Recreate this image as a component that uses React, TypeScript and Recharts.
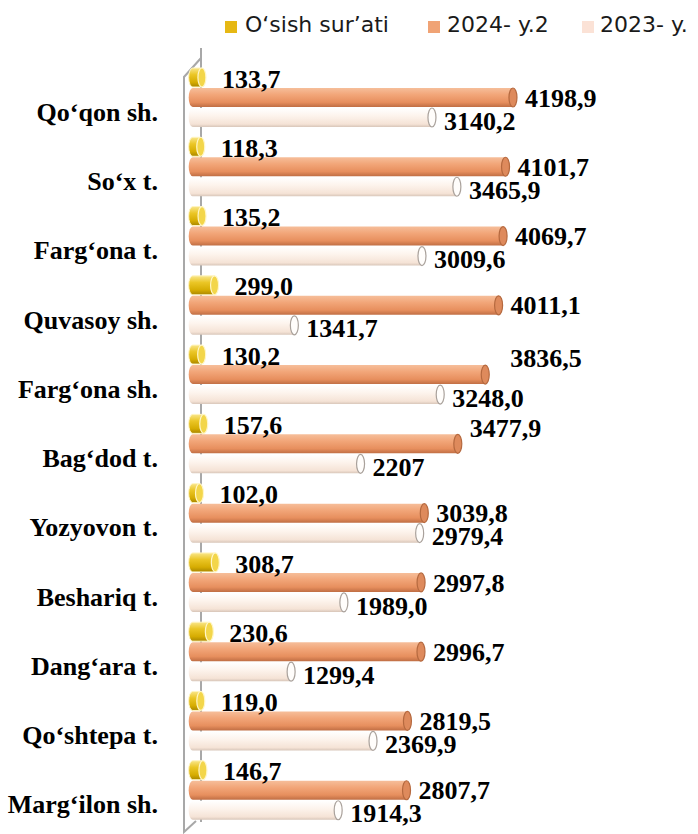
import React from 'react';
import { BarChart, Bar, XAxis, YAxis, LabelList } from 'recharts';

const categories = [
  'Qo‘qon sh.', 'So‘x t.', 'Farg‘ona t.', 'Quvasoy sh.', 'Farg‘ona sh.', 'Bag‘dod t.',
  'Yozyovon t.', 'Beshariq t.', 'Dang‘ara t.', 'Qo‘shtepa t.', 'Marg‘ilon sh.',
];
// values as printed on the chart (comma decimals)
const growth = ['133,7', '118,3', '135,2', '299,0', '130,2', '157,6', '102,0', '308,7', '230,6', '119,0', '146,7'];
const year2024 = ['4198,9', '4101,7', '4069,7', '4011,1', '3836,5', '3477,9', '3039,8', '2997,8', '2996,7', '2819,5', '2807,7'];
const year2023 = ['3140,2', '3465,9', '3009,6', '1341,7', '3248,0', '2207', '2979,4', '1989,0', '1299,4', '2369,9', '1914,3'];

const num = (s: string) => parseFloat(s.replace(',', '.'));

const data = categories.map((name, i) => ({
  name,
  g: num(growth[i]), gLabel: growth[i],
  y24: num(year2024[i]), y24Label: year2024[i],
  y23: num(year2023[i]), y23Label: year2023[i],
}));

const SERIES = {
  g: { grad: 'gradYellow', cap: '#F3D64A', capStroke: '#FFF6C8', dx: 16, dy: 1 },
  y24: { grad: 'gradOrange', cap: '#DE8A5C', capStroke: '#B5693F', dx: 8, dy: 0 },
  y23: { grad: 'gradCream', cap: '#FFFDFB', capStroke: '#A9A19B', dx: 8, dy: 3 },
};

// a couple of labels were moved by hand in the original
const labelNudge: Record<string, { dx: number; dy: number }> = {
  'y24-4': { dx: 13, dy: -17 },
  'y24-5': { dx: 0, dy: -16 },
};

const serif = '"Liberation Serif", "Times New Roman", serif';

function Cylinder(props: any) {
  const { x, y, width, height, kind } = props;
  const s = SERIES[kind as keyof typeof SERIES];
  const rx = 4;
  const ry = height / 2;
  const left = x - 7;
  const cx = x + width - rx;
  const body = `M ${cx} ${y} L ${left + rx} ${y} A ${rx} ${ry} 0 0 0 ${left + rx} ${y + height} L ${cx} ${y + height} Z`;
  return (
    <g>
      <path d={body} fill={`url(#${s.grad})`} stroke={kind === 'g' ? '#FFF4C0' : 'none'} strokeWidth={1} />
      <ellipse cx={cx} cy={y + ry} rx={rx} ry={ry} fill={s.cap} stroke={s.capStroke} strokeWidth={1.2} />
    </g>
  );
}

const makeLabel = (kind: keyof typeof SERIES) => (p: any) => {
  const vb = p.viewBox ?? p;
  const x = p.x ?? vb.x;
  const y = p.y ?? vb.y;
  const w = p.width ?? vb.width;
  const h = p.height ?? vb.height;
  const n = labelNudge[`${kind}-${p.index}`] ?? { dx: 0, dy: 0 };
  return (
    <text
      x={x + w + SERIES[kind].dx + n.dx}
      y={y + h / 2 + SERIES[kind].dy + n.dy}
      dy="0.35em"
      fontFamily={serif}
      fontWeight="bold"
      fontSize={26}
      fill="#000"
    >
      {p.value}
    </text>
  );
};

function CategoryTick(props: any) {
  const { y, payload } = props;
  return (
    <text x={158} y={y + 14} dy="0.35em" textAnchor="end" fontFamily={serif} fontWeight="bold" fontSize={26} fill="#000">
      {payload.value}
    </text>
  );
}

const legendItems = [
  { label: 'O‘sish sur’ati', color: '#E6B814', sq: 225, tx: 245 },
  { label: '2024- y.2', color: '#F0A375', sq: 428, tx: 447 },
  { label: '2023- y.', color: '#FBE2D6', sq: 582, tx: 600 },
];

export default function App() {
  return (
    <div style={{ position: 'absolute', left: 0, top: 0, width: 698, height: 834, background: '#fff', overflow: 'hidden' }}>
      {/* 3D wall edges */}
      <svg width={698} height={834} style={{ position: 'absolute', left: 0, top: 0 }}>
        <g stroke="#A8A8A8" strokeWidth={2} fill="none">
          <polyline points="201,48 201,58 184,77 184,832 196,821" />
          <line x1={201} y1={58} x2={201} y2={822} />
        </g>
      </svg>

      {legendItems.map((it) => (
        <React.Fragment key={it.label}>
          <span style={{ position: 'absolute', left: it.sq, top: 21, width: 12, height: 12, background: it.color }} />
          <span style={{
            position: 'absolute', left: it.tx, top: 14, fontFamily: '"DejaVu Sans", sans-serif',
            fontSize: 22, lineHeight: '22px', color: '#1a1a1a', whiteSpace: 'nowrap',
          }}>
            {it.label}
          </span>
        </React.Fragment>
      ))}

      <div style={{ position: 'absolute', left: 0, top: 0 }}>
        <BarChart
          width={698}
          height={834}
          data={data}
          layout="vertical"
          margin={{ top: 63, right: 158, bottom: 9, left: 0 }}
          barSize={19}
          barGap={1}
        >
          <defs>
            <linearGradient id="gradYellow" x1="0" y1="0" x2="0" y2="1">
              <stop offset="0" stopColor="#F9E68A" />
              <stop offset="0.35" stopColor="#EBC626" />
              <stop offset="0.75" stopColor="#D6AC02" />
              <stop offset="1" stopColor="#A88600" />
            </linearGradient>
            <linearGradient id="gradOrange" x1="0" y1="0" x2="0" y2="1">
              <stop offset="0" stopColor="#F6BE9A" />
              <stop offset="0.35" stopColor="#F2A679" />
              <stop offset="0.75" stopColor="#E78F5E" />
              <stop offset="1" stopColor="#C06E44" />
            </linearGradient>
            <linearGradient id="gradCream" x1="0" y1="0" x2="0" y2="1">
              <stop offset="0" stopColor="#FFFFFF" />
              <stop offset="0.4" stopColor="#FDF4ED" />
              <stop offset="0.85" stopColor="#F5E3D6" />
              <stop offset="1" stopColor="#D8C6B9" />
            </linearGradient>
          </defs>
          {/* negative minimum leaves room for the 3D depth offset of the bars */}
          <XAxis type="number" domain={[-166, 4500]} hide />
          <YAxis type="category" dataKey="name" width={183} axisLine={false} tickLine={false} tick={<CategoryTick />} interval={0} />
          <Bar dataKey="g" isAnimationActive={false} shape={(p: any) => <Cylinder {...p} kind="g" />}>
            <LabelList dataKey="gLabel" content={makeLabel('g')} />
          </Bar>
          <Bar dataKey="y24" isAnimationActive={false} shape={(p: any) => <Cylinder {...p} kind="y24" />}>
            <LabelList dataKey="y24Label" content={makeLabel('y24')} />
          </Bar>
          <Bar dataKey="y23" isAnimationActive={false} shape={(p: any) => <Cylinder {...p} kind="y23" />}>
            <LabelList dataKey="y23Label" content={makeLabel('y23')} />
          </Bar>
        </BarChart>
      </div>
    </div>
  );
}
